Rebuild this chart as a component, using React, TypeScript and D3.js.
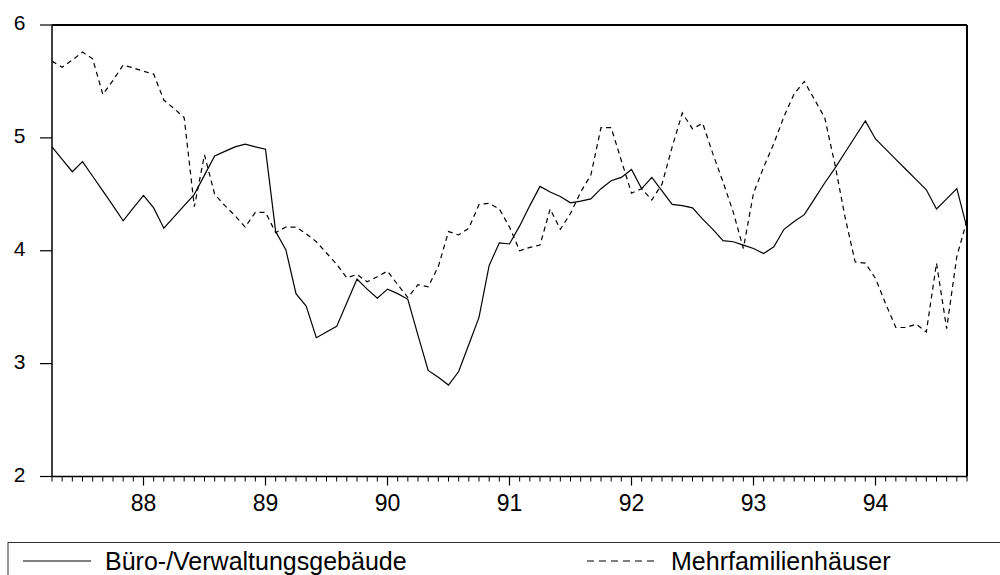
import React from "react";
import * as d3 from "d3";

const startYear = 1987.25; // April 1987, monthly data
const yearTicks = [1988, 1989, 1990, 1991, 1992, 1993, 1994];
const yearLabels = ["88", "89", "90", "91", "92", "93", "94"];
const yTicks = [2, 3, 4, 5, 6];
const seriesNames = ["Büro-/Verwaltungsgebäude", "Mehrfamilienhäuser"];

const buero = [
  4.92, 4.81, 4.70, 4.79, 4.66, 4.53, 4.40, 4.265, 4.38, 4.49,
  4.38, 4.20, 4.30, 4.40, 4.50, 4.67, 4.84, 4.88, 4.92, 4.945,
  4.92, 4.90, 4.17, 4.01, 3.62, 3.51, 3.23, 3.28, 3.33, 3.54,
  3.75, 3.66, 3.58, 3.66, 3.62, 3.57, 3.25, 2.94, 2.88, 2.81,
  2.93, 3.17, 3.41, 3.87, 4.07, 4.06, 4.22, 4.40, 4.57, 4.52,
  4.48, 4.425, 4.44, 4.46, 4.55, 4.62, 4.65, 4.72, 4.55, 4.65,
  4.53, 4.41, 4.40, 4.38, 4.28, 4.19, 4.09, 4.08, 4.05, 4.02,
  3.975, 4.035, 4.19, 4.26, 4.32, 4.46, 4.60, 4.73, 4.87, 5.01,
  5.15, 4.99, 4.90, 4.81, 4.72, 4.63, 4.54, 4.37, 4.46, 4.55,
  4.20,
];

const mehr = [
  5.68, 5.625, 5.69, 5.76, 5.70, 5.385, 5.51, 5.645, 5.62, 5.59,
  5.565, 5.335, 5.26, 5.18, 4.39, 4.85, 4.50, 4.40, 4.31, 4.21,
  4.34, 4.34, 4.16, 4.21, 4.21, 4.15, 4.08, 3.98, 3.88, 3.76,
  3.79, 3.725, 3.77, 3.82, 3.70, 3.585, 3.70, 3.68, 3.86, 4.17,
  4.14, 4.20, 4.41, 4.42, 4.37, 4.21, 4.00, 4.03, 4.05, 4.37,
  4.19, 4.33, 4.52, 4.67, 5.09, 5.09, 4.80, 4.51, 4.55, 4.45,
  4.59, 4.92, 5.22, 5.08, 5.13, 4.86, 4.61, 4.345, 4.02, 4.51,
  4.74, 4.95, 5.19, 5.39, 5.50, 5.34, 5.18, 4.77, 4.30, 3.90,
  3.89, 3.755, 3.53, 3.32, 3.32, 3.35, 3.28, 3.89, 3.31, 3.95,
  4.27,
];

const W = 1000;
const H = 575;
const L = 52, R = 967, T = 25, B = 476.5;
const FONT = "'Liberation Sans', Arial, Helvetica, sans-serif";

export default function App() {
  const x = d3.scaleLinear().domain([startYear, startYear + (buero.length - 1) / 12]).range([L, R]);
  const y = d3.scaleLinear().domain([2, 6]).range([B, T]);
  const line = d3
    .line<number>()
    .x((_, i) => x(startYear + i / 12))
    .y((d) => y(d));

  const months = d3.range(0, buero.length).map((i) => startYear + i / 12);

  return (
    <svg
      width={W}
      height={H}
      style={{ position: "absolute", left: 0, top: 0, background: "#fff" }}
      fontFamily={FONT}
    >
      <rect x={0} y={0} width={W} height={H} fill="#fff" />
      {/* series */}
      <path d={line(buero) || ""} fill="none" stroke="#000" strokeWidth={1.2} />
      <path
        d={line(mehr) || ""}
        fill="none"
        stroke="#000"
        strokeWidth={1.2}
        strokeDasharray="5,4"
      />
      {/* frame */}
      <line x1={L} x2={R} y1={T} y2={T} stroke="#000" strokeWidth={2} />
      <line x1={R} x2={R} y1={T} y2={B} stroke="#000" strokeWidth={2} />
      <line x1={L} x2={L} y1={T} y2={B} stroke="#000" strokeWidth={1.5} />
      <line x1={L} x2={R} y1={B} y2={B} stroke="#000" strokeWidth={1.5} />
      {/* y ticks */}
      {yTicks.map((t) => (
        <g key={"y" + t}>
          <line x1={L - 12} x2={L} y1={y(t)} y2={y(t)} stroke="#000" strokeWidth={1.2} />
          <text x={25.5} y={y(t) + 5} textAnchor="end" fontSize={21}>
            {t}
          </text>
        </g>
      ))}
      {/* x minor ticks */}
      {months.map((m, i) => (
        <line key={"m" + i} x1={x(m)} x2={x(m)} y1={B} y2={B + 5} stroke="#000" strokeWidth={1} />
      ))}
      {/* x major ticks and labels */}
      {yearTicks.map((t, i) => (
        <g key={"x" + t}>
          <line x1={x(t)} x2={x(t)} y1={B} y2={B + 9} stroke="#000" strokeWidth={1.2} />
          <text x={x(t)} y={511} textAnchor="middle" fontSize={23}>
            {yearLabels[i]}
          </text>
        </g>
      ))}
      {/* legend */}
      <rect x={8} y={542.5} width={1000} height={60} fill="none" stroke="#333" strokeWidth={1} />
      <line x1={23} x2={91} y1={561} y2={561} stroke="#000" strokeWidth={1.2} />
      <text x={105} y={569.5} fontSize={25}>
        {seriesNames[0]}
      </text>
      <line x1={587} x2={656} y1={561} y2={561} stroke="#000" strokeWidth={1.2} strokeDasharray="7,5" />
      <text x={671} y={569.5} fontSize={25}>
        {seriesNames[1]}
      </text>
    </svg>
  );
}
